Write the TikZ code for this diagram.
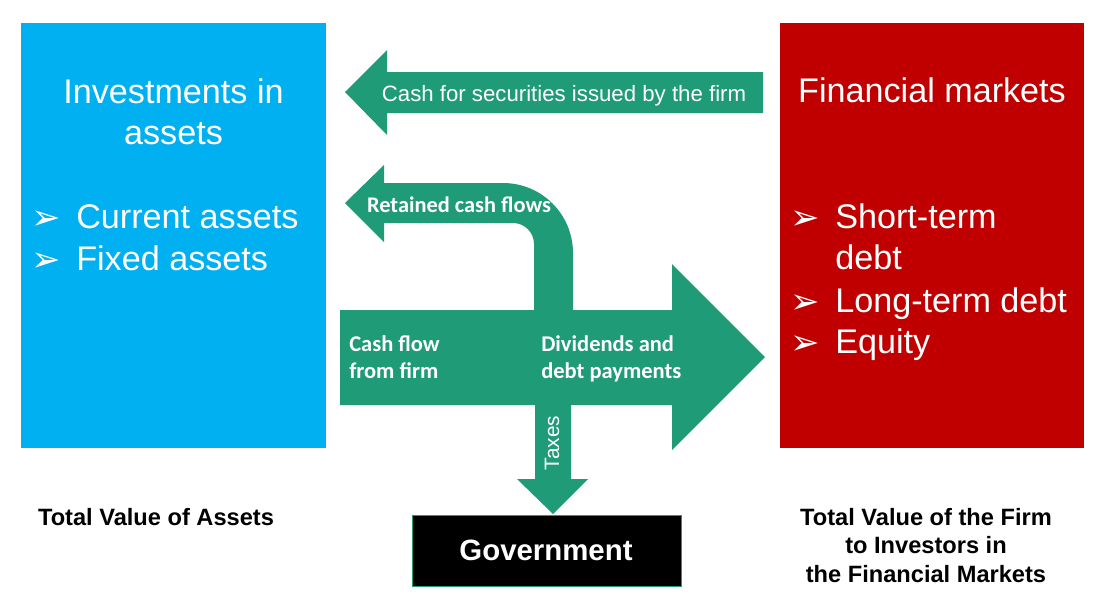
\documentclass[tikz,border=0pt]{standalone}
\usepackage{fontspec}
\setmainfont{Liberation Sans}
\newfontfamily\calfont{Carlito}
\newfontfamily\symfont{DejaVu Sans}
\usetikzlibrary{positioning}
\definecolor{AssetBlue}{HTML}{00B0F0}
\definecolor{MarketRed}{HTML}{C00000}
\definecolor{FlowGreen}{HTML}{1F9B78}

\begin{document}
\begin{tikzpicture}[x=0.025cm, y=-0.025cm,
  panel/.style={fill=#1, inner sep=0pt, anchor=north west},
  head/.style={text=white, anchor=base, align=center, inner sep=0pt, font=\fontsize{24.3}{29}\selectfont},
  item/.style={text=white, anchor=base west, inner sep=0pt, font=\fontsize{24.3}{29}\selectfont},
  bul/.style={text=white, anchor=base west, inner sep=0pt, font=\symfont\fontsize{25}{29}\selectfont},
  flow/.style={text=white, anchor=base west, align=left, inner sep=0pt, font=\calfont\bfseries\fontsize{16}{19}\selectfont},
  total/.style={anchor=base, align=center, inner sep=0pt, font=\bfseries\fontsize{16.8}{20.2}\selectfont}
]
\useasboundingbox (0,0) rectangle (1111,601);

% the two sides
\node[panel=AssetBlue, minimum width=7.625cm, minimum height=10.625cm] (assets) at (21,23) {};
\node[panel=MarketRed, minimum width=7.6cm, minimum height=10.625cm] (markets) at (780,23) {};

\node[head] (assettitle) at (173.5,144) {Investments in\\assets};
\node[bul] (b1) at (31,229) {➢};
\node[item] (current) at (76,228) {Current assets};
\node[bul] (b2) at (31,271) {➢};
\node[item] (fixed) at (76,270) {Fixed assets};

\node[head] (markettitle) at (932,102) {Financial markets};
\node[bul] (b3) at (790,229) {➢};
\node[item] (short) at (835,228) {Short-term};
\node[item] (shortb) at (835,269) {debt};
\node[bul] (b4) at (790,313) {➢};
\node[item] (long) at (835,312) {Long-term debt};
\node[bul] (b5) at (790,354) {➢};
\node[item] (equity) at (835,353) {Equity};

% arrows
\fill[FlowGreen] (763,72) -- (387,72) -- (387,50) -- (345,92) -- (387,135) -- (387,113) -- (763,113) -- cycle;
\node[text=white, anchor=base, inner sep=0pt, font=\fontsize{15.8}{19}\selectfont] (issue) at (564,101) {Cash for securities issued by the firm};

\fill[FlowGreen] (534,310) -- (534,244) .. controls (534,232.4) and (524.6,223) .. (513,223)
  -- (384,223) -- (384,242) -- (345,203) -- (384,165) -- (384,183) -- (503,183)
  .. controls (541.7,183) and (573,214.3) .. (573,253) -- (573,310) -- cycle;
\node[text=white, anchor=base, inner sep=0pt, font=\calfont\bfseries\fontsize{15.9}{19}\selectfont] (retained) at (459,212) {Retained cash flows};

\fill[FlowGreen] (340,310) -- (672,310) -- (672,264) -- (765,357) -- (672,450) -- (672,405) -- (340,405) -- cycle;
\fill[FlowGreen] (535,400) -- (571,400) -- (571,479) -- (588,479) -- (553,514) -- (517,479) -- (535,479) -- cycle;
\node[flow] (fromfirm) at (349,378) {Cash flow\\from firm};
\node[flow] (dividends) at (541,378) {Dividends and\\debt payments};
\node[text=white, rotate=90, inner sep=0pt, font=\fontsize{14.8}{18}\selectfont] (taxes) at (552,443) {Taxes};

% government
\node[fill=black, draw=FlowGreen, line width=0.6pt, minimum width=6.725cm, minimum height=1.775cm, inner sep=0pt, anchor=north west] (govbox) at (412,515) {};
\node[text=white, anchor=base, inner sep=0pt, font=\bfseries\fontsize{20.9}{25}\selectfont] (gov) at (546,560) {Government};

% totals
\node[total] (totassets) at (156,525) {Total Value of Assets};
\node[total] (totfirm) at (926,582) {Total Value of the Firm\\to Investors in\\the Financial Markets};
\end{tikzpicture}
\end{document}
